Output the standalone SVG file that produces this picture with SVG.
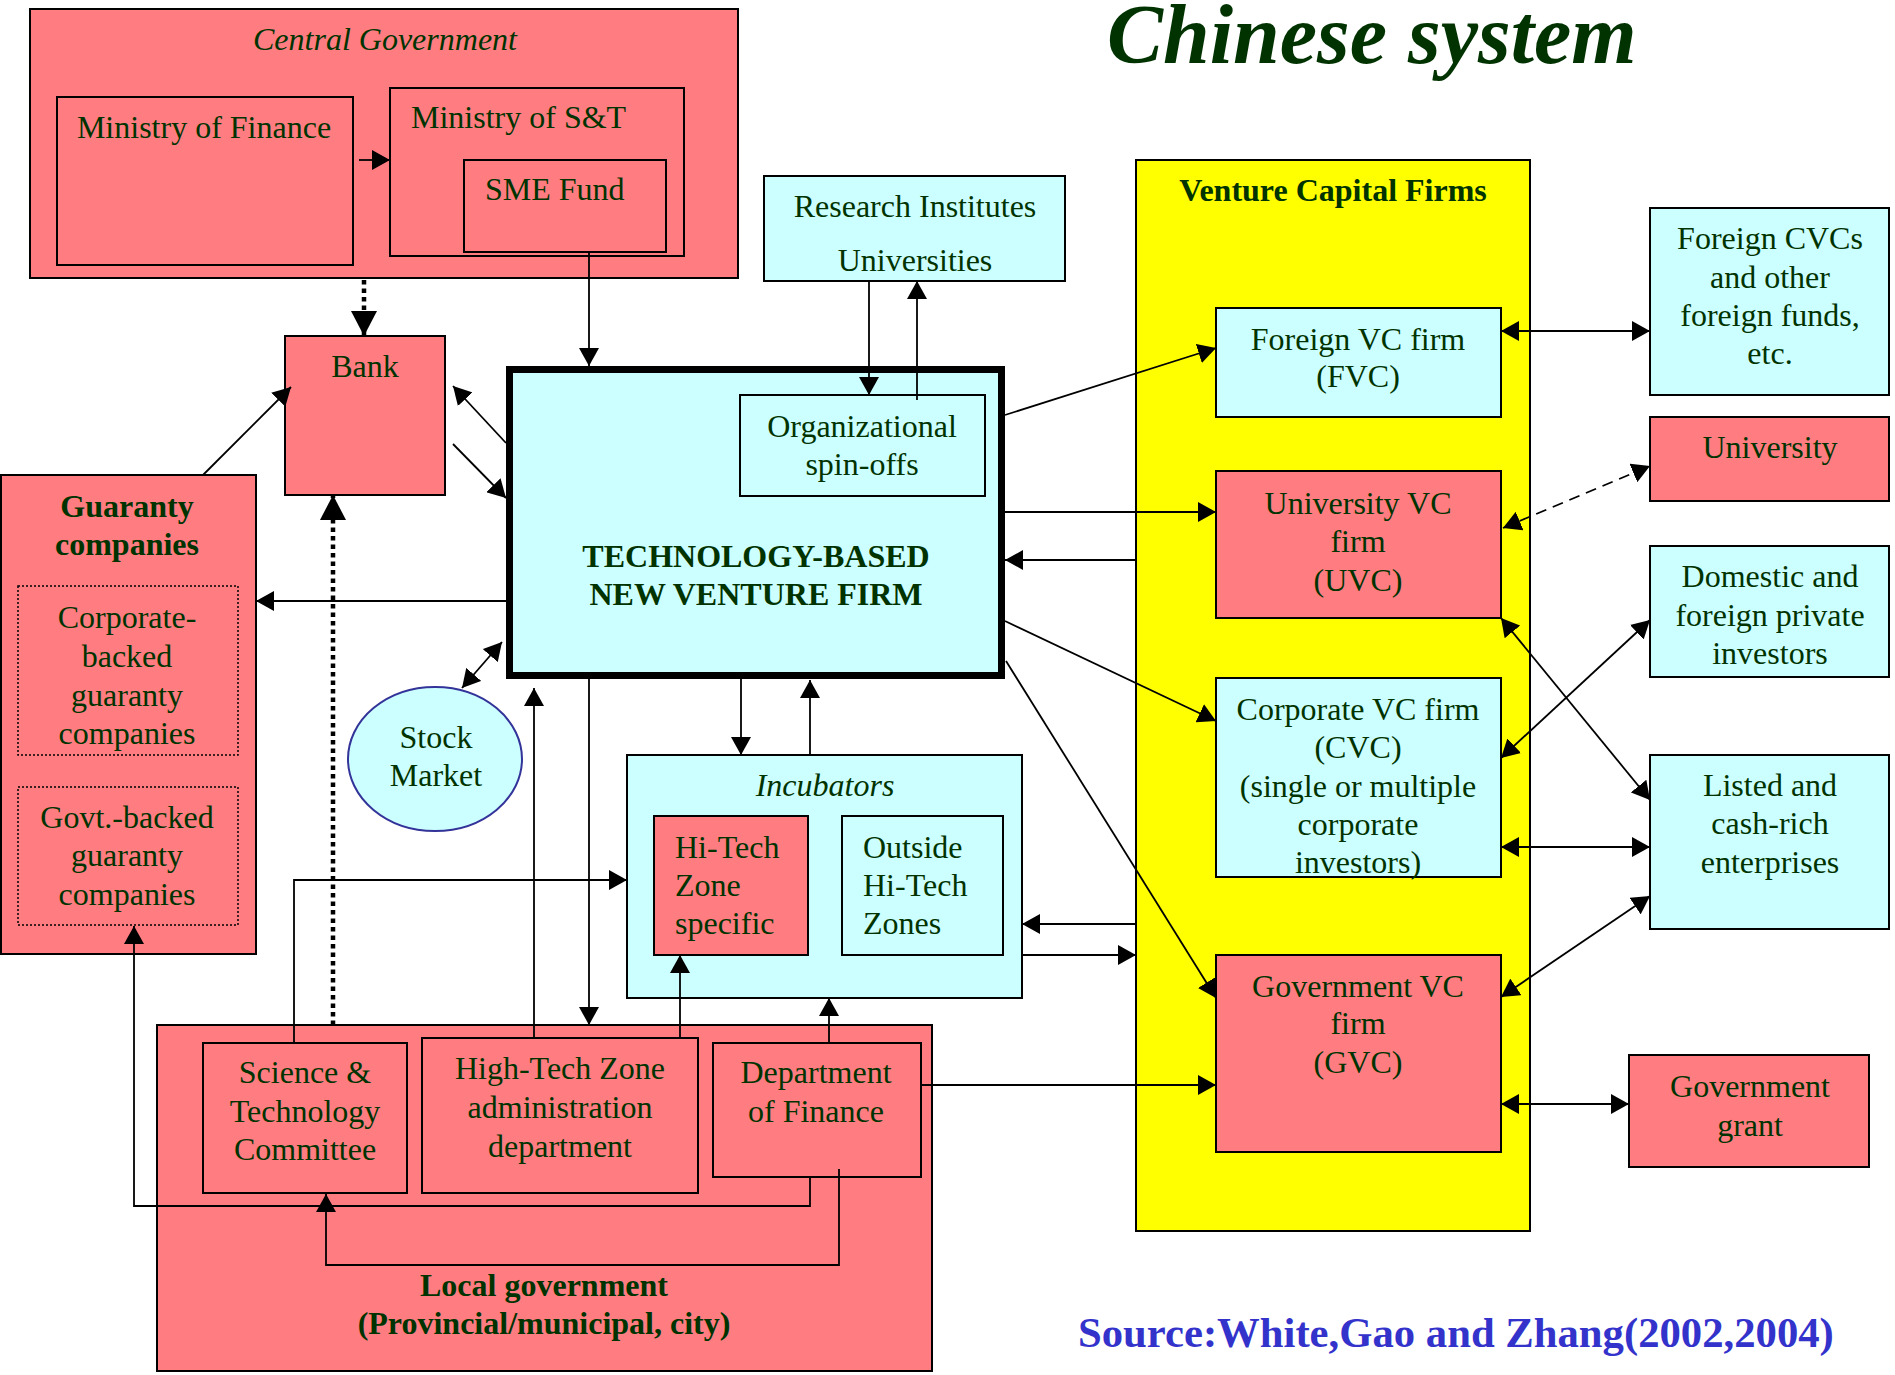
<svg xmlns="http://www.w3.org/2000/svg" width="1895" height="1375" viewBox="0 0 1895 1375">
  <style>
    .red { fill: #FF7C80; stroke: #000; stroke-width: 2; }
    .cyan { fill: #CCFFFF; stroke: #000; stroke-width: 2; }
    .yel { fill: #FFFF00; stroke: #000; stroke-width: 2; }
    .dot { fill: none; stroke: #000; stroke-width: 1.5; stroke-dasharray: 2 2; }
    text { font-family: "Liberation Serif", "Times New Roman", serif; font-size: 32px; fill: #003300; }
    .c { text-anchor: middle; }
    .b { font-weight: bold; }
    .i { font-style: italic; }
    .ln { fill: none; stroke: #000; stroke-width: 1.8; }
    .dl { fill: none; stroke: #000; stroke-width: 4.5; stroke-dasharray: 4.5 4; }
    .ds { stroke-dasharray: 11 7; }
    .end { marker-end: url(#a); }
    .both { marker-start: url(#a); marker-end: url(#a); }
  </style>
  <defs>
    <marker id="a" markerUnits="userSpaceOnUse" viewBox="0 0 18 20" refX="18" refY="10" markerWidth="18" markerHeight="20" orient="auto-start-reverse">
      <path d="M0,0 L18,10 L0,20 z" fill="#000"/>
    </marker>
    <marker id="ab" markerUnits="userSpaceOnUse" viewBox="0 0 25 26" refX="25" refY="13" markerWidth="25" markerHeight="26" orient="auto">
      <path d="M0,0 L25,13 L0,26 z" fill="#000"/>
    </marker>
  </defs>

  <!-- title -->
  <text x="1107" y="63" class="b i" style="font-size:84px">Chinese system</text>

  <!-- central government -->
  <g id="central-government">
    <rect class="red" x="30" y="9" width="708" height="269"/>
    <text x="385" y="50" class="c i">Central Government</text>
  </g>
  <g id="ministry-finance">
    <rect class="red" x="57" y="97" width="296" height="168"/>
    <text x="204" y="138" class="c">Ministry of Finance</text>
  </g>
  <g id="ministry-st">
    <rect class="red" x="390" y="88" width="294" height="168"/>
    <text x="411" y="128">Ministry of S&amp;T</text>
  </g>
  <g id="sme-fund">
    <rect class="red" x="464" y="160" width="202" height="92"/>
    <text x="485" y="200">SME Fund</text>
  </g>

  <!-- bank and guaranty -->
  <g id="bank">
    <rect class="red" x="285" y="336" width="160" height="159"/>
    <text x="365" y="377" class="c">Bank</text>
  </g>
  <g id="guaranty">
    <rect class="red" x="1" y="475" width="255" height="479"/>
    <text x="127" y="517" class="c b">Guaranty</text>
    <text x="127" y="555" class="c b">companies</text>
    <rect class="dot" x="18" y="586" width="220" height="169"/>
    <text x="127" y="628" class="c">Corporate-</text>
    <text x="127" y="667" class="c">backed</text>
    <text x="127" y="706" class="c">guaranty</text>
    <text x="127" y="744" class="c">companies</text>
    <rect class="dot" x="18" y="787" width="220" height="138"/>
    <text x="127" y="828" class="c">Govt.-backed</text>
    <text x="127" y="866" class="c">guaranty</text>
    <text x="127" y="905" class="c">companies</text>
  </g>

  <g id="stock-market">
    <ellipse cx="435" cy="759" rx="87" ry="72" fill="#CCFFFF" stroke="#333399" stroke-width="2"/>
    <text x="436" y="748" class="c">Stock</text>
    <text x="436" y="786" class="c">Market</text>
  </g>

  <!-- new venture firm -->
  <g id="tbnvf">
    <rect class="cyan" x="509.5" y="369.5" width="492" height="306" style="stroke-width:7"/>
    <text x="756" y="567" class="c b">TECHNOLOGY-BASED</text>
    <text x="756" y="605" class="c b">NEW VENTURE FIRM</text>
  </g>
  <g id="spin-offs">
    <rect class="cyan" x="740" y="395" width="245" height="101"/>
    <text x="862" y="437" class="c">Organizational</text>
    <text x="862" y="475" class="c">spin-offs</text>
  </g>
  <g id="research">
    <rect class="cyan" x="764" y="176" width="301" height="105"/>
    <text x="915" y="217" class="c">Research Institutes</text>
    <text x="915" y="271" class="c">Universities</text>
  </g>

  <!-- incubators -->
  <g id="incubators">
    <rect class="cyan" x="627" y="755" width="395" height="243"/>
    <text x="825" y="796" class="c i">Incubators</text>
  </g>
  <g id="hitech-specific">
    <rect class="red" x="654" y="816" width="154" height="139"/>
    <text x="675" y="858">Hi-Tech</text>
    <text x="675" y="896">Zone</text>
    <text x="675" y="934">specific</text>
  </g>
  <g id="outside-hitech">
    <rect class="cyan" x="842" y="816" width="161" height="139"/>
    <text x="863" y="858">Outside</text>
    <text x="863" y="896">Hi-Tech</text>
    <text x="863" y="934">Zones</text>
  </g>

  <!-- local government -->
  <g id="local-government">
    <rect class="red" x="157" y="1025" width="775" height="346"/>
    <text x="544" y="1296" class="c b">Local government</text>
    <text x="544" y="1334" class="c b">(Provincial/municipal, city)</text>
  </g>
  <g id="st-committee">
    <rect class="red" x="203" y="1043" width="204" height="150"/>
    <text x="305" y="1083" class="c">Science &amp;</text>
    <text x="305" y="1122" class="c">Technology</text>
    <text x="305" y="1160" class="c">Committee</text>
  </g>
  <g id="htz-admin">
    <rect class="red" x="422" y="1038" width="276" height="155"/>
    <text x="560" y="1079" class="c">High-Tech Zone</text>
    <text x="560" y="1118" class="c">administration</text>
    <text x="560" y="1157" class="c">department</text>
  </g>
  <g id="dept-finance">
    <rect class="red" x="713" y="1043" width="208" height="134"/>
    <text x="816" y="1083" class="c">Department</text>
    <text x="816" y="1122" class="c">of Finance</text>
  </g>

  <!-- venture capital firms -->
  <g id="vc-firms">
    <rect class="yel" x="1136" y="160" width="394" height="1071"/>
    <text x="1333" y="201" class="c b">Venture Capital Firms</text>
  </g>
  <g id="fvc">
    <rect class="cyan" x="1216" y="308" width="285" height="109"/>
    <text x="1358" y="350" class="c">Foreign VC firm</text>
    <text x="1358" y="387" class="c">(FVC)</text>
  </g>
  <g id="uvc">
    <rect class="red" x="1216" y="471" width="285" height="147"/>
    <text x="1358" y="514" class="c">University VC</text>
    <text x="1358" y="552" class="c">firm</text>
    <text x="1358" y="591" class="c">(UVC)</text>
  </g>
  <g id="cvc">
    <rect class="cyan" x="1216" y="678" width="285" height="199"/>
    <text x="1358" y="720" class="c">Corporate VC firm</text>
    <text x="1358" y="758" class="c">(CVC)</text>
    <text x="1358" y="797" class="c">(single or multiple</text>
    <text x="1358" y="835" class="c">corporate</text>
    <text x="1358" y="873" class="c">investors)</text>
  </g>
  <g id="gvc">
    <rect class="red" x="1216" y="955" width="285" height="197"/>
    <text x="1358" y="997" class="c">Government VC</text>
    <text x="1358" y="1034" class="c">firm</text>
    <text x="1358" y="1073" class="c">(GVC)</text>
  </g>

  <!-- outside sources -->
  <g id="foreign-cvcs">
    <rect class="cyan" x="1650" y="208" width="239" height="187"/>
    <text x="1770" y="249" class="c">Foreign CVCs</text>
    <text x="1770" y="288" class="c">and other</text>
    <text x="1770" y="326" class="c">foreign funds,</text>
    <text x="1770" y="364" class="c">etc.</text>
  </g>
  <g id="university">
    <rect class="red" x="1650" y="417" width="239" height="84"/>
    <text x="1770" y="458" class="c">University</text>
  </g>
  <g id="private-investors">
    <rect class="cyan" x="1650" y="546" width="239" height="131"/>
    <text x="1770" y="587" class="c">Domestic and</text>
    <text x="1770" y="626" class="c">foreign private</text>
    <text x="1770" y="664" class="c">investors</text>
  </g>
  <g id="listed-enterprises">
    <rect class="cyan" x="1650" y="755" width="239" height="174"/>
    <text x="1770" y="796" class="c">Listed and</text>
    <text x="1770" y="834" class="c">cash-rich</text>
    <text x="1770" y="873" class="c">enterprises</text>
  </g>
  <g id="gov-grant">
    <rect class="red" x="1629" y="1055" width="240" height="112"/>
    <text x="1750" y="1097" class="c">Government</text>
    <text x="1750" y="1136" class="c">grant</text>
  </g>

  <!-- connectors -->
  <g id="connectors">
    <path class="ln end" d="M359,160 H390"/>
    <path class="dl" d="M364,280 V336" marker-end="url(#ab)"/>
    <path class="ln end" d="M589,252 V366"/>
    <path class="ln end" d="M869,281 V395"/>
    <path class="ln end" d="M917,400 V281"/>
    <path class="ln end" d="M203,475 L291,387"/>
    <path class="ln end" d="M506,443 L453,386"/>
    <path class="ln end" d="M453,444 L506,498"/>
    <path class="ln end" d="M506,601 H256"/>
    <path class="ln both" d="M462,688 L502,642"/>
    <path class="dl" d="M333,1025 V495" marker-end="url(#ab)"/>
    <path class="ln end" d="M534,1038 V688"/>
    <path class="ln end" d="M589,679 V1025"/>
    <path class="ln end" d="M741,679 V755"/>
    <path class="ln end" d="M810,755 V680"/>
    <path class="ln end" d="M294,1043 V880 H627"/>
    <path class="ln end" d="M680,1038 V955"/>
    <path class="ln end" d="M829,1043 V998"/>
    <path class="ln end" d="M810,1177 V1206 H134 V926"/>
    <path class="ln end" d="M839,1169 V1265 H326 V1194"/>
    <path class="ln end" d="M921,1085 H1216"/>
    <path class="ln end" d="M1136,924 H1022"/>
    <path class="ln end" d="M1022,955 H1136"/>
    <path class="ln end" d="M1005,415 L1216,348"/>
    <path class="ln end" d="M1005,512 H1216"/>
    <path class="ln end" d="M1136,560 H1005"/>
    <path class="ln end" d="M1005,621 L1216,721"/>
    <path class="ln end" d="M1006,661 L1216,998"/>
    <path class="ln both" d="M1501,331 H1650"/>
    <path class="ln both ds" d="M1503,528 L1650,466"/>
    <path class="ln both" d="M1501,618 L1650,800"/>
    <path class="ln both" d="M1501,758 L1650,620"/>
    <path class="ln both" d="M1501,847 H1650"/>
    <path class="ln both" d="M1501,997 L1650,896"/>
    <path class="ln both" d="M1501,1104 H1629"/>
  </g>

  <!-- source note -->
  <text x="1078" y="1347" class="b" style="font-size:42.7px;fill:#3333CC">Source:White,Gao and Zhang(2002,2004)</text>
</svg>
